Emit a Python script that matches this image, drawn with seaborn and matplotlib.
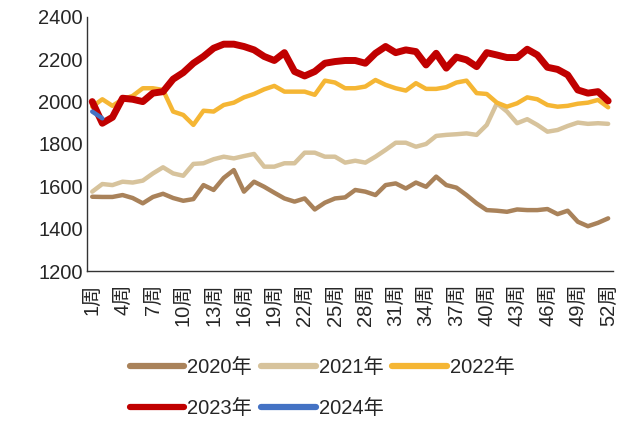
import numpy as np
import pandas as pd
import matplotlib
matplotlib.use("Agg")
import matplotlib.pyplot as plt
import seaborn as sns

weeks = list(range(1, 53))
tick_weeks = list(range(1, 53, 3))
tick_labels = [f"{w}周" for w in tick_weeks]

y2020 = [1551, 1550, 1550, 1559, 1545, 1520, 1550, 1565, 1545, 1532,
         1540, 1606, 1583, 1640, 1677, 1575, 1622, 1598, 1570, 1543,
         1528, 1543, 1491, 1523, 1543, 1548, 1583, 1575, 1559, 1606,
         1614, 1590, 1618, 1598, 1646, 1606, 1594, 1559, 1520, 1488,
         1485, 1480, 1491, 1488, 1488, 1493, 1469, 1485, 1433, 1412,
         1428, 1449]
y2021 = [1575, 1611, 1606, 1622, 1618, 1627, 1661, 1690, 1661, 1650,
         1706, 1709, 1728, 1740, 1732, 1743, 1753, 1693, 1693, 1709,
         1709, 1759, 1759, 1740, 1740, 1712, 1721, 1712, 1740, 1772,
         1806, 1806, 1787, 1800, 1838, 1843, 1846, 1850, 1843, 1890,
         1992, 1953, 1898, 1917, 1890, 1858, 1866, 1885, 1901, 1895,
         1898, 1895]
y2022 = [1976, 2011, 1980, 2011, 2027, 2063, 2063, 2055, 1953, 1937,
         1890, 1957, 1953, 1984, 1995, 2020, 2036, 2058, 2074, 2047,
         2047, 2047, 2032, 2099, 2090, 2063, 2063, 2071, 2102, 2079,
         2063, 2052, 2087, 2060, 2060, 2068, 2090, 2099, 2040, 2036,
         1995, 1976, 1992, 2020, 2011, 1984, 1976, 1980, 1990, 1995,
         2008, 1973]
y2023 = [2000, 1898, 1926, 2016, 2011, 2000, 2040, 2047, 2106, 2137,
         2181, 2213, 2252, 2271, 2271, 2260, 2244, 2213, 2194, 2231,
         2142, 2121, 2142, 2181, 2189, 2194, 2194, 2181, 2228, 2260,
         2231, 2244, 2236, 2173, 2228, 2158, 2210, 2197, 2165, 2231,
         2220, 2208, 2208, 2247, 2220, 2162, 2152, 2126, 2055, 2040,
         2047, 2003]
y2024 = [1953, 1921]

series = [
    ("2020年", y2020, "#A9825A", 3.2),
    ("2021年", y2021, "#D7C39C", 3.2),
    ("2022年", y2022, "#F5B634", 3.2),
    ("2023年", y2023, "#C00000", 5.0),
    ("2024年", y2024, "#4472C4", 3.2),
]

sns.set_style("white")
plt.rcParams['font.family'] = ['Liberation Sans', 'Noto Sans CJK SC']

fig = plt.figure(figsize=(6.27, 4.21), dpi=100)
ax = fig.add_axes([0.139, 0.356, 0.839, 0.604])

for name, vals, color, lw in series:
    sns.lineplot(x=weeks[:len(vals)], y=vals, ax=ax, color=color,
                 linewidth=lw, label=name, solid_capstyle='round',
                 solid_joinstyle='round')

ax.set_xlim(0.5, 52.5)
ax.set_ylim(1200, 2400)
ax.set_yticks(range(1200, 2401, 200))
ax.set_xticks(tick_weeks)
ax.set_xticklabels(tick_labels, rotation=90)
ax.set_xticks(np.arange(0.5, 53, 1), minor=True)
ax.tick_params(axis='x', which='major', length=0, labelsize=14.5, pad=9)
ax.tick_params(axis='x', which='minor', direction='in', length=4, width=0.8, color='#555555')
ax.tick_params(axis='y', direction='in', length=5, width=0.8, labelsize=14.5, pad=3, color='#333333')
ax.set_xlabel("")
ax.set_ylabel("")
for s in ['top', 'right']:
    ax.spines[s].set_visible(False)
for s in ['left', 'bottom']:
    ax.spines[s].set_color('#333333')
    ax.spines[s].set_linewidth(1.0)

handles, labels = ax.get_legend_handles_labels()
ax.get_legend().remove()
# matplotlib fills legend columns first, so reorder for row-wise layout
order = [0, 3, 1, 4, 2]
leg = fig.legend([handles[i] for i in order], [labels[i] for i in order],
                 loc='upper center', bbox_to_anchor=(0.514, 0.193),
                 ncol=3, frameon=False, fontsize=14.5, handlelength=2.7,
                 handletextpad=0.15, columnspacing=0.45, labelspacing=1.1)
for h in leg.get_lines():
    h.set_linewidth(4.5)

fig.savefig("out.png", dpi=100)
